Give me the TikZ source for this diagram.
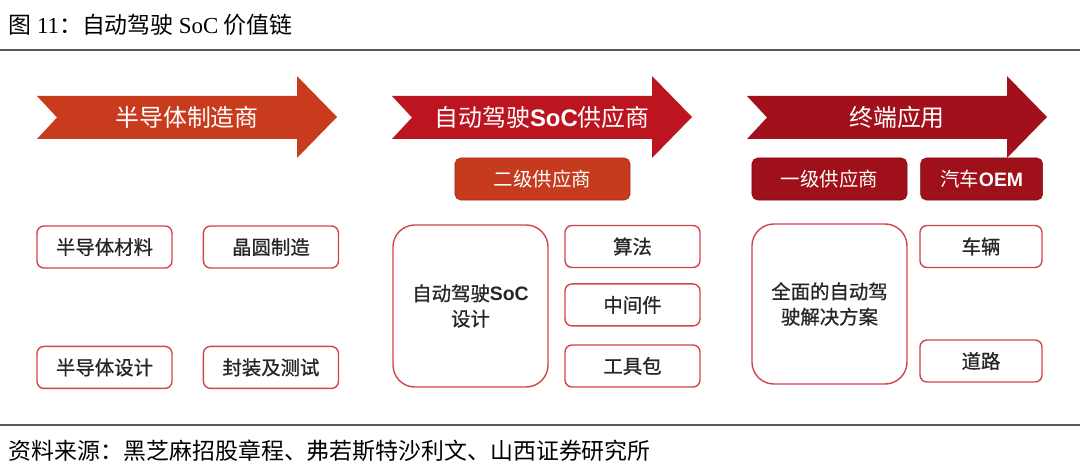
\documentclass[tikz,border=0pt]{standalone}
\usepackage{fontspec}
\newfontfamily\cjk{Noto Sans CJK SC}
\newfontfamily\cjkm[FakeBold=0.8]{Noto Sans CJK SC}
\newfontfamily\tms{Liberation Serif}
\newfontfamily\arl{Liberation Sans}
\usetikzlibrary{positioning}
\definecolor{arA}{HTML}{C93B1D}
\definecolor{arB}{HTML}{BC1520}
\definecolor{arC}{HTML}{A2111B}
\definecolor{bline}{HTML}{D2454C}
\definecolor{hdA}{HTML}{C63A1E}
\definecolor{hdC}{HTML}{A0101A}

\begin{document}
\begin{tikzpicture}[x=0.025cm,y=-0.025cm, ob/.style={rectangle,draw=bline,line width=1pt,fill=white,rounded corners=5pt,minimum width=3.375cm,minimum height=1.05cm,inner sep=0pt,align=center,text=black!85,font=\cjkm\fontsize{13.8}{18}\selectfont}, big/.style={ob,minimum width=3.875cm,minimum height=4.05cm,rounded corners=0.55cm}, hb/.style={rectangle,rounded corners=4pt,minimum height=1.05cm,inner sep=0pt,text=white,font=\cjk\fontsize{13.8}{18}\selectfont}, rl/.style={draw=black!65,line width=1pt}, atxt/.style={text=white,font=\cjk\fontsize{17}{20}\selectfont}]
  \useasboundingbox (0,0) rectangle (1080,473);
  \fill[white] (0,0) rectangle (1080,473);
  \node[anchor=west,font=\cjk\fontsize{16.3}{19}\selectfont](title) at (4,25){图 {\tms 11}：自动驾驶 {\tms SoC} 价值链};
  \draw[rl] (0,50) -- (1080,50);
  \draw[rl] (0,425) -- (1080,425);
  \foreach \x/\c/\n/\t in {37/arA/a1/半导体制造商,392/arB/a2/自动驾驶{\arl\bfseries SoC}供应商,747/arC/a3/终端应用}{
    \fill[\c] (\x,96) -- (\x+260,96) -- (\x+260,76) -- (\x+300,117) -- (\x+260,158) -- (\x+260,139) -- (\x,139) -- (\x+20,117.5) -- cycle;
    \node[atxt](\n) at (\x+150,117){\t};
  }
  \node[ob](m1) at (104.5,247){半导体材料};
  \node[ob,right=0.75cm of m1](m2){晶圆制造};
  \node[ob,below=1.925cm of m1](m3){半导体设计};
  \node[ob,right=0.75cm of m3](m4){封装及测试};
  \node[hb,fill=hdA,draw=hdA!80!black,minimum width=4.375cm](h2) at (542.5,179){二级供应商};
  \node[big](s0) at (470.5,306){自动驾驶{\arl\bfseries SoC}\\设计};
  \node[ob](s1) at (632.5,246.5){算法};
  \node[ob,below=0.375cm of s1](s2){中间件};
  \node[ob](s3) at (632.5,366){工具包};
  \node[hb,fill=hdC,draw=hdC!80!black,minimum width=3.875cm](h3) at (829.5,179){一级供应商};
  \node[hb,fill=hdC,draw=hdC!80!black,minimum width=3.05cm,right=0.325cm of h3](h4){汽车{\arl\bfseries OEM}};
  \node[big,minimum height=4cm](e0) at (829.5,304){全面的自动驾\\驶解决方案};
  \node[ob,minimum width=3.05cm](e1) at (981,246.5){车辆};
  \node[ob,minimum width=3.05cm](e2) at (981,361){道路};
  \node[anchor=west,font=\cjk\fontsize{16.3}{19}\selectfont](src) at (4,451){资料来源：黑芝麻招股章程、弗若斯特沙利文、山西证券研究所};
\end{tikzpicture}
\end{document}
